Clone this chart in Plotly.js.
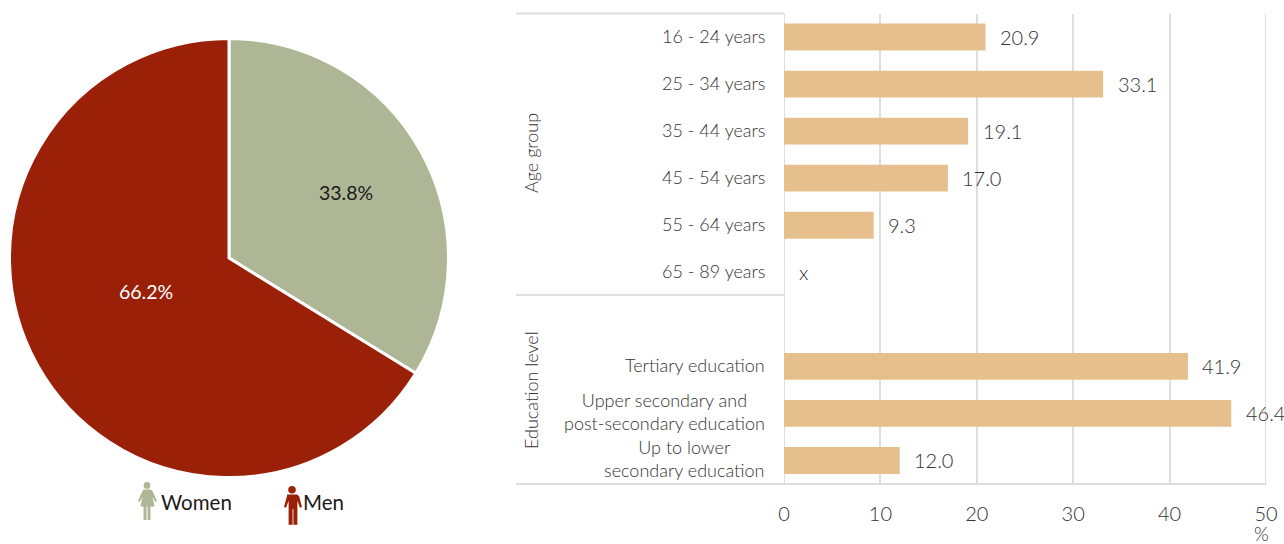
<!DOCTYPE html>
<html><head><meta charset="utf-8">
<script src="https://cdn.plot.ly/plotly-3.0.1.min.js"></script>
<style>html,body{margin:0;padding:0;background:#fff}#c{width:1284px;height:544px}</style>
</head><body><div id="c"></div>
<script>
const W=1284,H=544;
const sexLabels=['Women','Men'];
const sexValues=[33.8,66.2];
const sexColors=['#AEB795','#9A2008'];
const categories=['16 - 24 years','25 - 34 years','35 - 44 years','45 - 54 years','55 - 64 years','65 - 89 years','blank','Tertiary education','Upper secondary and<br>post-secondary education','Up to lower<br>secondary education'];
const values=[20.9,33.1,19.1,17.0,9.3,null,null,41.9,46.4,12.0];
const valueLabels=['20.9','33.1','19.1','17.0','9.3','x','','41.9','46.4','12.0'];
const xTicks=[0,10,20,30,40,50];
const groups=[['Age group',153],['Education level',390]];
const FONT='Lato, "Open Sans", sans-serif';
const TXT='#333333';
const GRID='#DEDEDE';
const px=v=>v/W, py=v=>1-v/H;
const f=(size,color,weight)=>({family:FONT,size:size,color:color||TXT,weight:weight||300});
const slots=categories.map((c,i)=>i);

const womanSvg="<svg xmlns='http://www.w3.org/2000/svg' viewBox='0 0 20 38'><g fill='#AEB795'><circle cx='10' cy='3.4' r='3.4'/><path d='M6.5 7.5h7l2 1.5 4.5 10-1.6 1-3-5.2 2.2 9.700H13.500V38h-3V24.500h-1V38h-3V24.500H3.400l2.200-9.700-3 5.200-1.600-1L5.500 9z'/></g></svg>";
const manSvg="<svg xmlns='http://www.w3.org/2000/svg' viewBox='0 0 20 39'><g fill='#9A2008'><circle cx='10' cy='3.800' r='3.800'/><path d='M5 8.500h10l2 1.500 3 11-2 .8-2.600-7V38.800h-4V23h-.8v15.800h-4V14.800L4 21.800l-2-.8 3-11z'/></g></svg>";
const uri=s=>'data:image/svg+xml;utf8,'+encodeURIComponent(s);

const traces=[
 {type:'pie',labels:sexLabels,values:sexValues,sort:false,direction:'clockwise',rotation:0,
  marker:{colors:sexColors,line:{color:'#fff',width:3}},textinfo:'none',hoverinfo:'label+percent',showlegend:false,
  domain:{x:[px(9.500),px(448.500)],y:[py(477.500),py(38.500)]}},
 {type:'bar',orientation:'h',y:slots,x:values,width:0.57,marker:{color:'#E5C08C'},hoverinfo:'x',showlegend:false,xaxis:'x',yaxis:'y'}
];
const ann=[];
const add=(o)=>ann.push(Object.assign({showarrow:false,xanchor:'center',yanchor:'middle'},o));
add({xref:'paper',yref:'paper',x:px(346),y:py(193),text:sexValues[0].toFixed(1)+'%',font:f(19.500,'#1a1a1a',400)});
add({xref:'paper',yref:'paper',x:px(146),y:py(291.500),text:sexValues[1].toFixed(1)+'%',font:f(19.500,'#ffffff',400)});
add({xref:'paper',yref:'paper',x:px(158.500),xanchor:'left',y:py(502),text:sexLabels[0],font:f(20.500,'#1a1a1a',400)});
add({xref:'paper',yref:'paper',x:px(301),xanchor:'left',y:py(502),text:sexLabels[1],font:f(20.500,'#1a1a1a',400)});
categories.forEach((c,i)=>{
 if(c==='blank')return;
 add({xref:'paper',yref:'y',x:px(767),xanchor:'right',y:i,yshift:1.5,text:c,align:'center',font:f(18)});
 add({xref:'x',yref:'y',x:values[i]||0,xanchor:'left',xshift:12.5,y:i,text:valueLabels[i],font:f(20)});
});
groups.forEach(g=>add({xref:'paper',yref:'paper',x:px(531),y:py(g[1]),text:g[0],textangle:-90,font:f(18)}));
add({xref:'paper',yref:'paper',x:px(1261),y:py(533.500),text:'%',font:f(19)});

const hline=(y,x1)=>({type:'line',xref:'paper',yref:'paper',x0:px(516),x1:px(x1||784),y0:py(y),y1:py(y),line:{color:GRID,width:2},layer:'below'});
const vline=(x)=>({type:'line',xref:'x',yref:'paper',x0:x,x1:x,y0:py(484),y1:py(13.500),line:{color:GRID,width:2},layer:'below'});
const layout={
 width:W,height:H,margin:{l:0,r:0,t:0,b:0},paper_bgcolor:'#fff',plot_bgcolor:'#fff',showlegend:false,
 font:f(18),
 xaxis:{domain:[px(784),px(1266)],range:[0,50],tickvals:xTicks,ticktext:xTicks.map(String),tickfont:f(20),
  showgrid:true,gridcolor:GRID,gridwidth:2,zeroline:false,showline:false,ticks:'outside',ticklen:12,tickcolor:'rgba(0,0,0,0)',fixedrange:true},
 yaxis:{domain:[py(484),py(13.500)],range:[9.5,-0.5],tickvals:[],showticklabels:false,showgrid:false,zeroline:false,showline:false,fixedrange:true},
 annotations:ann,
 shapes:[hline(13.500),hline(295),hline(484,1266),vline(xTicks[0]),vline(xTicks[5])],
 images:[
  {source:uri(womanSvg),xref:'paper',yref:'paper',x:px(137),y:py(482),sizex:px(20),sizey:38/H,sizing:'stretch',xanchor:'left',yanchor:'top'},
  {source:uri(manSvg),xref:'paper',yref:'paper',x:px(282),y:py(486),sizex:px(20),sizey:39/H,sizing:'stretch',xanchor:'left',yanchor:'top'}
 ]
};
Plotly.newPlot('c',traces,layout,{displayModeBar:false,staticPlot:true});
</script></body></html>
